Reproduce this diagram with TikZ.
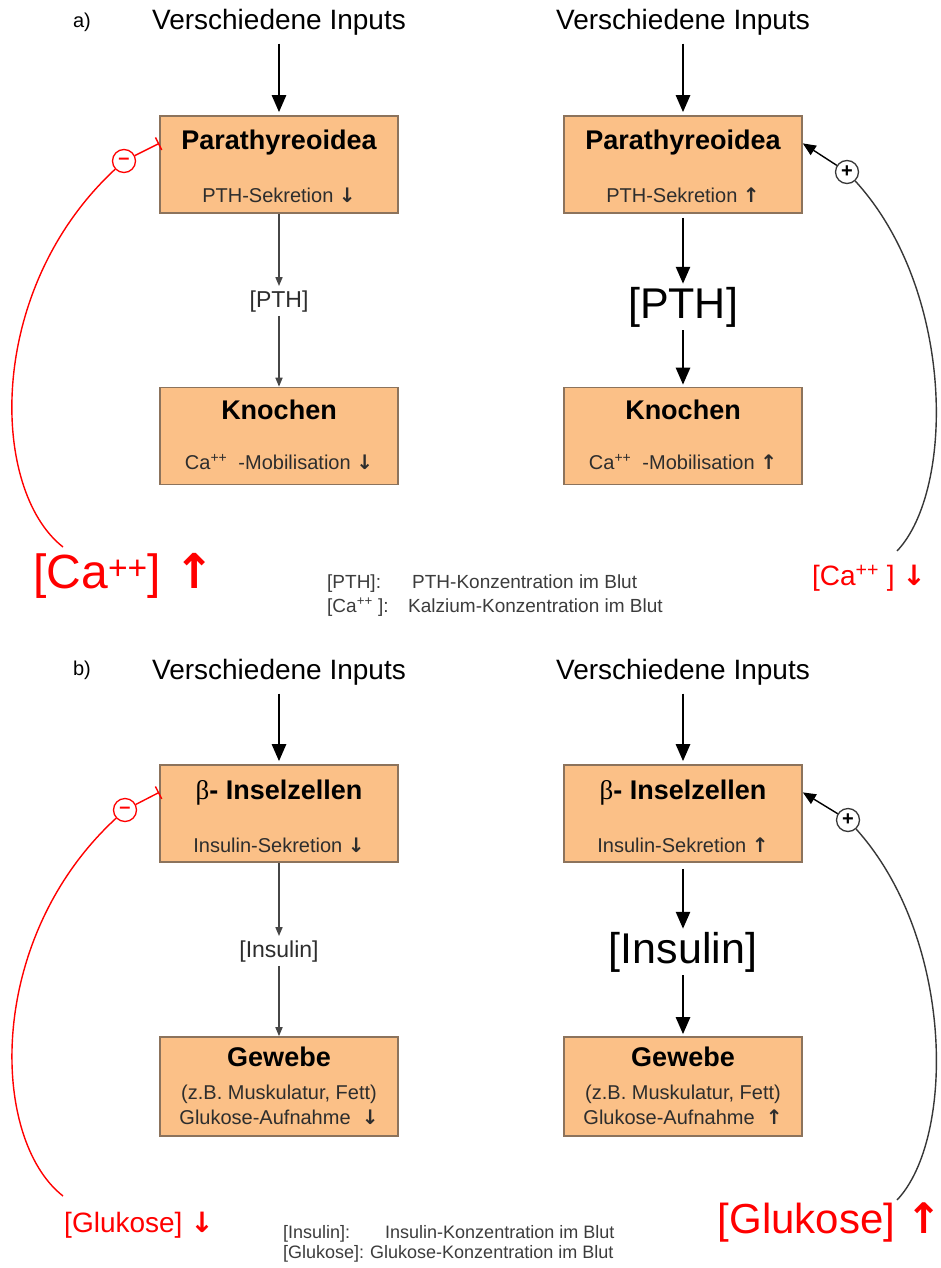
\documentclass[tikz,border=0pt]{standalone}
\usepackage{fontspec}
\setmainfont{Liberation Sans}
\newfontfamily\grkfont{Liberation Serif}
\newfontfamily\arrowfont{DejaVu Sans}
\usetikzlibrary{arrows.meta}

\definecolor{boxfill}{RGB}{251,192,135}
\definecolor{boxline}{RGB}{140,115,92}
\definecolor{subgray}{RGB}{45,45,45}
\definecolor{legendgray}{RGB}{60,60,60}
\definecolor{arrowgray}{RGB}{70,70,70}
\definecolor{fordgray}{RGB}{55,55,55}

\newcommand{\fsz}[1]{\fontsize{#1}{#1}\selectfont}
\newcommand{\arrup}{{\arrowfont\bfseries ↑}}
\newcommand{\arrdown}{{\arrowfont\bfseries ↓}}

\tikzset{
  organ/.style={draw=boxline, fill=boxfill, line width=1.6pt, minimum width=238pt, minimum height=97pt},
  organtitle/.style={font=\fsz{27}\bfseries, inner sep=0pt},
  organsub/.style={font=\fsz{20}, text=subgray, inner sep=0pt},
  inputs/.style={font=\fsz{28}},
  panel/.style={font=\fsz{20}},
  bigarrow/.style={-{Triangle[length=17pt,width=14pt]}, line width=2.6pt},
  thinarrow/.style={-{Triangle[length=9pt,width=7pt]}, line width=1.6pt, draw=arrowgray},
  smallconc/.style={font=\fsz{23}, text=subgray, inner sep=3pt},
  bigconc/.style={font=\fsz{43}, inner sep=3pt},
  hemm/.style={circle, draw=red, line width=1.3pt, fill=white, minimum size=23pt, inner sep=0pt, text=red, font=\fsz{20}\bfseries},
  ford/.style={circle, draw=fordgray, line width=1.3pt, fill=white, minimum size=23pt, inner sep=0pt, font=\fsz{20}\bfseries},
  hemmline/.style={draw=red, line width=1.4pt},
  fordline/.style={draw=fordgray, line width=1.4pt},
  legend/.style={font=\fsz{19}, text=legendgray, anchor=base west, inner sep=0pt},
}

\begin{document}
\begin{tikzpicture}[x=1pt,y=-1pt]
\useasboundingbox[fill=white] (0,0) rectangle (941,1268);

% a) Parathyreoidea / Knochen
\node[panel] (pa) at (82,22) {a)};
\node[inputs] (inAL) at (279,22) {Verschiedene Inputs};
\node[inputs] (inAR) at (683,22) {Verschiedene Inputs};

\node[organ] (parL) at (279,164.5) {};
\node[organtitle] at (279,143) {Parathyreoidea};
\node[organsub] at (279,195) {PTH-Sekretion \arrdown};
\node[organ] (parR) at (683,164.5) {};
\node[organtitle] at (683,143) {Parathyreoidea};
\node[organsub] at (683,195) {PTH-Sekretion \arrup};

\node[smallconc] (pthL) at (279,302) {[PTH]};
\node[bigconc] (pthR) at (683,307) {[PTH]};

\node[organ] (knoL) at (279,436) {};
\node[organtitle] at (279,410) {Knochen};
\node[organsub] at (279,462) {Ca\textsuperscript{++}~ -Mobilisation \arrdown};
\node[organ] (knoR) at (683,436) {};
\node[organtitle] at (683,410) {Knochen};
\node[organsub] at (683,462) {Ca\textsuperscript{++}~ -Mobilisation \arrup};

\draw[bigarrow, shorten <=5pt, shorten >=3pt] (inAL) -- (parL);
\draw[bigarrow, shorten <=5pt, shorten >=3pt] (inAR) -- (parR);
\draw[thinarrow, shorten >=2pt] (parL) -- (pthL);
\draw[thinarrow] (pthL) -- (knoL);
\draw[bigarrow, shorten <=4pt] (parR) -- (pthR);
\draw[bigarrow, shorten >=2pt] (pthR) -- (knoR);

% Rueckkopplung a)
\node[font=\fsz{48}, text=red] (caL) at (124,576) {[Ca\textsuperscript{++}] \arrup};
\node[font=\fsz{28}, text=red] (caR) at (869,578) {[Ca\textsuperscript{++} ] \arrdown};
\coordinate (caLend) at (63,547);
\coordinate (caRend) at (897,551);
\node[hemm] (minA) at (124,161) {–};
\node[ford] (plusA) at (847,172) {+};
\draw[hemmline] (caLend) .. controls (-10,490) and (-15,290) .. (minA);
\draw[hemmline, -{Bar[width=14pt, line width=1.4pt]}] (minA) -- (parL.170);
\draw[fordline] (caRend) .. controls (955,490) and (955,290) .. (plusA);
\draw[fordline, -{Triangle[length=13pt,width=11pt]}, color=black] (plusA) -- (parR.10);

\node[legend] (lgA1) at (327,588) {[PTH]:};
\node[legend] (lgA1t) at (412,588) {PTH-Konzentration im Blut};
\node[legend] (lgA2) at (327,612) {[Ca\textsuperscript{++} ]:};
\node[legend] (lgA2t) at (408,612) {Kalzium-Konzentration im Blut};

% b) Inselzellen / Gewebe
\node[panel] (pb) at (82,670) {b)};
\node[inputs] (inBL) at (279,672) {Verschiedene Inputs};
\node[inputs] (inBR) at (683,672) {Verschiedene Inputs};

\node[organ] (betL) at (279,813.5) {};
\node[organtitle] at (279,793) {{\grkfont\mdseries β}- Inselzellen};
\node[organsub] at (279,845) {Insulin-Sekretion \arrdown};
\node[organ] (betR) at (683,813.5) {};
\node[organtitle] at (683,793) {{\grkfont\mdseries β}- Inselzellen};
\node[organsub] at (683,845) {Insulin-Sekretion \arrup};

\node[smallconc] (insL) at (279,952) {[Insulin]};
\node[bigconc] (insR) at (683,952) {[Insulin]};

\node[organ, minimum height=99pt] (gewL) at (279,1086.5) {};
\node[organtitle] at (279,1057) {Gewebe};
\node[organsub] at (279,1094) {(z.B. Muskulatur, Fett)};
\node[organsub] at (279,1117) {Glukose-Aufnahme~ \arrdown};
\node[organ, minimum height=99pt] (gewR) at (683,1086.5) {};
\node[organtitle] at (683,1057) {Gewebe};
\node[organsub] at (683,1094) {(z.B. Muskulatur, Fett)};
\node[organsub] at (683,1117) {Glukose-Aufnahme~ \arrup};

\draw[bigarrow, shorten <=5pt, shorten >=3pt] (inBL) -- (betL);
\draw[bigarrow, shorten <=5pt, shorten >=3pt] (inBR) -- (betR);
\draw[thinarrow, shorten >=2pt] (betL) -- (insL);
\draw[thinarrow] (insL) -- (gewL);
\draw[bigarrow, shorten <=6pt] (betR) -- (insR);
\draw[bigarrow, shorten >=2pt] (insR) -- (gewR);

% Rueckkopplung b)
\node[font=\fsz{28}, text=red] (glL) at (139,1225) {[Glukose] \arrdown};
\node[font=\fsz{42}, text=red] (glR) at (830,1222) {[Glukose] \arrup};
\coordinate (glLend) at (63,1196);
\coordinate (glRend) at (897,1200);
\node[hemm] (minB) at (125,810) {–};
\node[ford] (plusB) at (848,820) {+};
\draw[hemmline] (glLend) .. controls (-10,1139) and (-15,939) .. (minB);
\draw[hemmline, -{Bar[width=14pt, line width=1.4pt]}] (minB) -- (betL.170);
\draw[fordline] (glRend) .. controls (955,1139) and (955,939) .. (plusB);
\draw[fordline, -{Triangle[length=13pt,width=11pt]}, color=black] (plusB) -- (betR.10);

\node[legend, font=\fsz{18}] (lgB1) at (283,1238) {[Insulin]:};
\node[legend, font=\fsz{18}] (lgB1t) at (385,1238) {Insulin-Konzentration im Blut};
\node[legend, font=\fsz{18}] (lgB2) at (283,1258) {[Glukose]:};
\node[legend, font=\fsz{18}] (lgB2t) at (370,1258) {Glukose-Konzentration im Blut};
\end{tikzpicture}
\end{document}
